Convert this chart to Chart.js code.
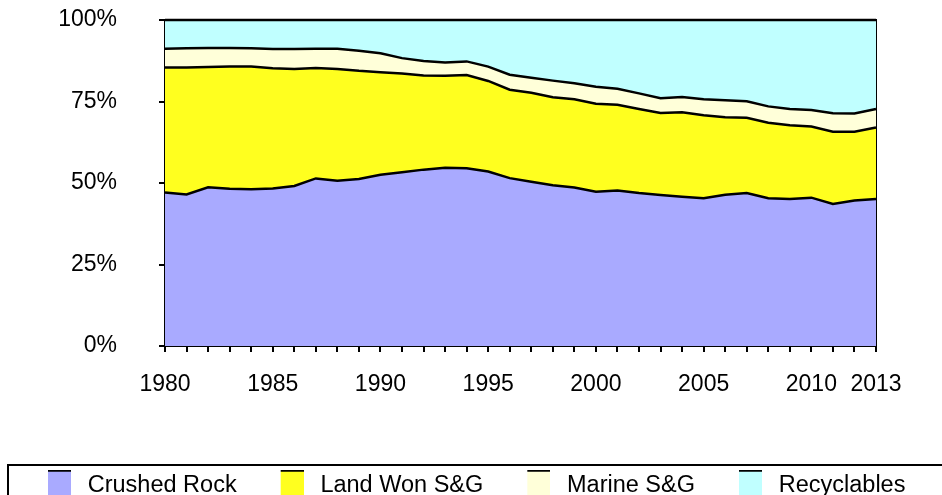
<!DOCTYPE html>
<html>
<head>
<meta charset="utf-8">
<script src="https://cdn.jsdelivr.net/npm/chart.js@4/dist/chart.umd.min.js"></script>
<style>
    html, body { margin: 0; padding: 0; background: #fff; }
    #wrap { width: 942px; height: 495px; }
</style>
</head>
<body>
<div id="wrap"><canvas id="chart" width="942" height="495"></canvas></div>
<script>
// Years on the x axis
const years = [];
for (let y = 1980; y <= 2013; y++) years.push(String(y));

// Share of supply (%)
const crushedRock = [47.1, 46.5, 48.7, 48.2, 48.1, 48.3, 49.1, 51.4, 50.7, 51.2,
    52.5, 53.3, 54.1, 54.7, 54.5, 53.5, 51.5, 50.4, 49.3, 48.6,
    47.3, 47.7, 46.9, 46.3, 45.8, 45.3, 46.4, 46.9, 45.3, 45.1,
    45.5, 43.6, 44.6, 45.1];
const landWon = [38.3, 38.9, 36.9, 37.5, 37.6, 36.9, 35.9, 33.9, 34.3, 33.2,
    31.5, 30.3, 28.9, 28.2, 28.6, 27.8, 27.1, 27.3, 27.0, 27.1,
    27.0, 26.3, 25.8, 25.2, 25.9, 25.5, 23.8, 23.1, 23.2, 22.6,
    21.8, 22.1, 21.1, 21.9];
const marine = [5.8, 5.9, 5.8, 5.7, 5.6, 5.9, 6.1, 5.9, 6.2, 6.2,
    5.8, 4.7, 4.4, 4.1, 4.2, 4.4, 4.6, 4.6, 5.1, 4.9,
    5.2, 4.9, 4.8, 4.5, 4.7, 4.9, 5.2, 5.1, 5.0, 5.0,
    5.1, 5.7, 5.6, 5.7];
const recyclables = [8.8, 8.7, 8.6, 8.6, 8.7, 8.9, 8.9, 8.8, 8.8, 9.4,
    10.2, 11.7, 12.6, 13.0, 12.7, 14.3, 16.8, 17.7, 18.6, 19.4,
    20.5, 21.1, 22.5, 24.0, 23.6, 24.3, 24.6, 24.9, 26.5, 27.3,
    27.6, 28.6, 28.7, 27.3];

const seriesNames = ['Crushed Rock', 'Land Won S&G', 'Marine S&G', 'Recyclables'];
const seriesColors = ['#a9aaff', '#ffff1f', '#ffffd9', '#c0ffff'];
const yTicks = [0, 25, 50, 75, 100];

const FAMILY = '"Liberation Sans", Arial, Helvetica, sans-serif';
const AXIS_FONT = { family: FAMILY, size: 23 };
const LEGEND_FONT = { family: FAMILY, size: 23.5 };

// Legend swatch: filled box with a black line along its top.
// The image is centred on the legend box, so the swatch sits right of its left edge.
function makeSwatch(color) {
    const c = document.createElement('canvas');
    c.width = 42;
    c.height = 32;
    const g = c.getContext('2d');
    g.fillStyle = color;
    g.fillRect(19, 2, 23, 30);
    g.fillStyle = '#000';
    g.fillRect(19, 0, 23, 2);
    return c;
}

// Frame round the legend, running off the right and bottom edges
const legendFrame = {
    id: 'legendFrame',
    afterDraw(chart) {
        const lg = chart.legend;
        const ctx = chart.ctx;
        ctx.save();
        ctx.strokeStyle = '#000';
        ctx.lineWidth = 2;
        ctx.strokeRect(lg.left + 4, lg.top + 11, chart.width, 80);
        ctx.restore();
    }
};

const allSeries = [crushedRock, landWon, marine, recyclables];
const datasets = allSeries.map((data, i) => ({
    label: seriesNames[i],
    data: data,
    backgroundColor: seriesColors[i],
    borderColor: '#000',
    borderWidth: 2.5,
    pointRadius: 0,
    tension: 0,
    fill: i === 0 ? 'origin' : '-1',
    clip: 6,
    pointStyle: makeSwatch(seriesColors[i])
}));

new Chart(document.getElementById('chart'), {
    type: 'line',
    data: { labels: years, datasets: datasets },
    options: {
        responsive: false,
        animation: false,
        layout: { padding: { left: 4, right: 0, top: 20, bottom: 0 } },
        plugins: {
            filler: { drawTime: 'beforeDatasetsDraw' },
            tooltip: { enabled: false },
            legend: {
                position: 'bottom',
                align: 'start',
                maxHeight: 41,
                labels: {
                    font: LEGEND_FONT,
                    color: '#000',
                    usePointStyle: true,
                    pointStyleWidth: 52,
                    padding: 20
                }
            }
        },
        scales: {
            x: {
                offset: false,
                grid: { drawOnChartArea: false, color: '#000', lineWidth: 2, tickLength: 6 },
                border: { color: '#000', width: 2 },
                ticks: {
                    font: AXIS_FONT,
                    color: '#000',
                    autoSkip: false,
                    maxRotation: 0,
                    padding: 19,
                    callback: function (value) {
                        const yr = Number(this.getLabelForValue(value));
                        return (yr % 5 === 0 || yr === 2013) ? String(yr) : '';
                    }
                },
                afterFit: (scale) => { scale.height = 108; }
            },
            y: {
                stacked: true,
                min: 0,
                max: 100,
                afterBuildTicks: (scale) => { scale.ticks = yTicks.map(v => ({ value: v })); },
                grid: { drawOnChartArea: false, color: '#000', lineWidth: 2, tickLength: 6 },
                border: { color: '#000', width: 2 },
                ticks: {
                    font: AXIS_FONT,
                    color: '#000',
                    padding: 42,
                    callback: (v) => v + '%'
                },
                afterFit: (scale) => {
                    scale.width = 161;
                    scale.paddingTop = 0;
                    scale.paddingBottom = 0;
                }
            },
            y2: {
                position: 'right',
                min: 0,
                max: 100,
                grid: { display: false },
                border: { display: true, color: '#000', width: 2 },
                ticks: { display: false },
                afterFit: (scale) => { scale.width = 66; }
            }
        }
    },
    plugins: [legendFrame]
});
</script>
</body>
</html>
